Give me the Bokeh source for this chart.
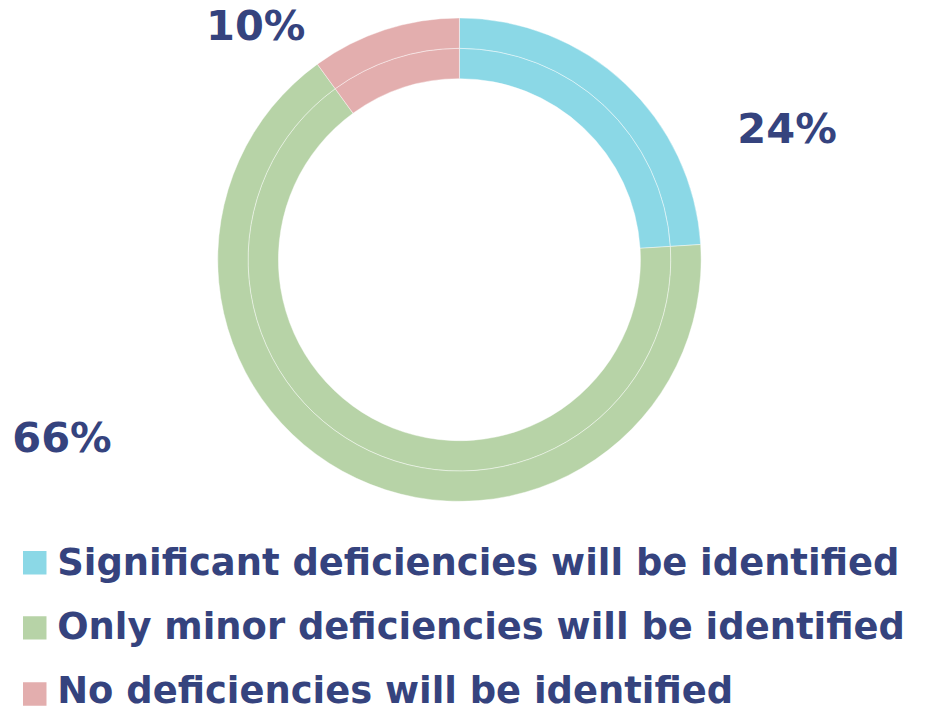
import numpy as np
from bokeh.plotting import figure
from bokeh.models import Range1d, ColumnDataSource
from bokeh.core.properties import value
from bokeh.embed import file_html
from bokeh.resources import INLINE

# ---- data ----
categories = ["Significant deficiencies will be identified",
              "Only minor deficiencies will be identified",
              "No deficiencies will be identified"]
shares = [24, 66, 10]
labels = ["24%", "66%", "10%"]
colors = ["#8BD8E6", "#B7D3A7", "#E3AEAE"]
text_color = "#35437E"

# ---- figure: data units = reference-image pixels (931 x 727), y upward ----
REF_W, REF_H = 931, 727
S = 711 / REF_H
W, H = int(round(REF_W * S)), 711
p = figure(width=W, height=H, output_backend="svg", toolbar_location=None,
           x_range=Range1d(0, REF_W), y_range=Range1d(0, REF_H),
           min_border=0, border_fill_color="white", background_fill_color="white")
p.axis.visible = False
p.grid.visible = False
p.outline_line_color = None

BASE_FIX = 0.39  # empirical baseline correction (em)

def py(ref_y):
    return REF_H - ref_y

def fs(px):
    return f"{px * S:.2f}px"

cx, cy = 469, py(265)
vals = np.array(shares, dtype=float)
frac = vals / vals.sum()
cum = np.concatenate([[0], np.cumsum(frac)])
start = np.pi / 2 - cum[:-1] * 2 * np.pi
end = np.pi / 2 - cum[1:] * 2 * np.pi

src = ColumnDataSource(dict(start=start, end=end, color=colors))
for r_in, r_out in [(185, 216), (216, 247)]:
    p.annular_wedge(x=cx, y=cy, inner_radius=r_in, outer_radius=r_out,
                    start_angle="start", end_angle="end", direction="clock",
                    fill_color="color", line_color="white", line_width=0.6,
                    line_alpha=0.7, source=src)

# percent labels (anchor positions: left edge, baseline)
LAB_FS = 42.5
lab_pos = [(753, 147), (12, 463), (210, 42.5)]
p.text(x=[a for a, b in lab_pos],
       y=[py(b - BASE_FIX * LAB_FS) for a, b in lab_pos], text=labels,
       text_font=value("DejaVu Sans"), text_font_style="bold",
       text_font_size=fs(LAB_FS), text_color=text_color,
       text_align="left", text_baseline="alphabetic")

# legend
LEG_FS = 37.7
row_base = [589, 655, 720]
sq_center = [575, 641.5, 709]
p.rect(x=[35] * 3, y=[py(v) for v in sq_center], width=24, height=24,
       fill_color=colors, line_color=None)
p.text(x=[58] * 3, y=[py(v - BASE_FIX * LEG_FS) for v in row_base], text=categories,
       text_font=value("DejaVu Sans"), text_font_style="bold",
       text_font_size=fs(LEG_FS), text_color=text_color,
       text_align="left", text_baseline="alphabetic")

open("out.html", "w").write(file_html(p, INLINE))
